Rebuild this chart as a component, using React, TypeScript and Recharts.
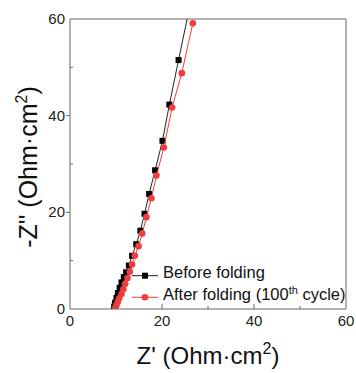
import React from 'react';
import { ScatterChart, Scatter, XAxis, YAxis, ReferenceLine } from 'recharts';

const beforeX = [9.6, 9.8, 10.1, 10.4, 10.8, 11.2, 11.7, 12.2, 12.8, 13.5, 14.4, 15.3, 16.2, 17.2, 18.5, 20.1, 21.6, 23.6, 25.9];
const beforeY = [0.5, 1.3, 2.3, 3.3, 4.4, 5.5, 6.6, 7.6, 9.0, 11.0, 13.4, 16.2, 19.7, 23.8, 28.7, 34.8, 42.3, 51.5, 62];
const afterX = [9.85, 10.1, 10.4, 10.7, 11.2, 11.6, 12.0, 12.5, 13.0, 13.5, 14.1, 14.9, 15.7, 16.6, 17.7, 18.8, 20.4, 22.2, 24.3, 26.7];
const afterY = [0.25, 0.8, 1.5, 2.2, 3.1, 4.1, 5.2, 6.4, 7.7, 9.2, 11.0, 13.0, 15.6, 19.0, 22.9, 27.6, 33.4, 41.7, 48.8, 59.1];
const ticks = [0, 10, 20, 30, 40, 50, 60];
const majorTicks = [0, 20, 40, 60];
const seriesNames = ['Before folding', 'After folding (100'];

const beforeData = beforeX.map((x, i) => ({ x, y: beforeY[i] }));
const afterData = afterX.map((x, i) => ({ x, y: afterY[i] }));

const FONT = '"Liberation Sans", Arial, sans-serif';
const AXIS = '#666';
const RED = '#f03c3c';

const XTick = (props: any) => {
  const { x, y, payload } = props;
  const v = payload.value;
  const major = majorTicks.includes(v);
  const showLine = v !== 0 && v !== 60;
  return (
    <g>
      {showLine && <line x1={x} x2={x} y1={y} y2={y - (major ? 5 : 3)} stroke={AXIS} strokeWidth={1} />}
      {major && (
        <text x={x} y={y + 17} textAnchor="middle" fontSize={15} fontFamily={FONT} fill="#222">
          {v}
        </text>
      )}
    </g>
  );
};

const YTick = (props: any) => {
  const { x, y, payload } = props;
  const v = payload.value;
  const major = majorTicks.includes(v);
  const showLine = v !== 0 && v !== 60;
  return (
    <g>
      {showLine && !major && <line x1={x} x2={x + 3} y1={y} y2={y} stroke={AXIS} strokeWidth={1} />}
      {showLine && major && <line x1={x} x2={x - 4} y1={y} y2={y} stroke={AXIS} strokeWidth={1} />}
      {major && (
        <text x={x - 5} y={y + 5} textAnchor="end" fontSize={15} fontFamily={FONT} fill="#222">
          {v}
        </text>
      )}
    </g>
  );
};

const Square = (props: any) => {
  const { cx, cy } = props;
  if (cx == null || cy == null) return null;
  return <rect x={cx - 3} y={cy - 3} width={6} height={6} fill="#000" />;
};

const Circle = (props: any) => {
  const { cx, cy } = props;
  if (cx == null || cy == null) return null;
  return <circle cx={cx} cy={cy} r={3.3} fill={RED} />;
};

const XLabel = (props: any) => {
  const { viewBox } = props;
  const cx = viewBox.x + viewBox.width / 2;
  return (
    <text x={cx} y={364} textAnchor="middle" fontSize={24} fontFamily={FONT} fill="#111">
      Z' (Ohm·cm<tspan fontSize={16} dy={-10}>2</tspan><tspan dy={10}>)</tspan>
    </text>
  );
};

const YLabel = () => {
  const cy = 167;
  const cx = 37;
  return (
    <text x={cx} y={cy} textAnchor="middle" fontSize={25} fontFamily={FONT} fill="#111" transform={`rotate(-90 ${cx} ${cy})`}>
      -Z'' (Ohm·cm<tspan fontSize={16} dy={-10}>2</tspan><tspan dy={10}>)</tspan>
    </text>
  );
};

const LegendBox = () => (
  <svg width={230} height={50} style={{ position: 'absolute', left: 125, top: 260, overflow: 'visible' }}>
    <line x1={7} x2={33} y1={15.7} y2={15.7} stroke="#222" strokeWidth={1} />
    <rect x={17} y={12.7} width={6} height={6} fill="#000" />
    <text x={38} y={18} fontSize={16.5} fontFamily={FONT} fill="#111">{seriesNames[0]}</text>
    <line x1={7} x2={33} y1={37.3} y2={37.3} stroke={RED} strokeWidth={1} />
    <circle cx={20} cy={37.3} r={3.3} fill={RED} />
    <text x={38} y={40} fontSize={16.5} fontFamily={FONT} fill="#111">
      {seriesNames[1]}<tspan fontSize={11} dy={-6}>th</tspan><tspan dy={6}> cycle)</tspan>
    </text>
  </svg>
);

export default function App() {
  return (
    <div style={{ position: 'absolute', left: 0, top: 0, width: 356, height: 373, background: '#fff' }}>
      <ScatterChart width={356} height={373} margin={{ top: 19, right: 10, left: 0, bottom: 0 }}>
        <XAxis
          xAxisId="main"
          type="number"
          dataKey="x"
          domain={[0, 60]}
          ticks={ticks}
          interval={0}
          allowDataOverflow
          height={64}
          tickSize={0}
          tickMargin={0}
          tickLine={false}
          tick={<XTick />}
          axisLine={{ stroke: AXIS }}
          label={<XLabel />}
        />
        <YAxis
          yAxisId="main"
          type="number"
          dataKey="y"
          domain={[0, 60]}
          ticks={ticks}
          interval={0}
          allowDataOverflow
          width={70}
          tickSize={0}
          tickMargin={0}
          tickLine={false}
          tick={<YTick />}
          axisLine={{ stroke: AXIS }}
          label={<YLabel />}
        />
        <ReferenceLine xAxisId="main" yAxisId="main" y={60} stroke={AXIS} strokeWidth={1} />
        <ReferenceLine xAxisId="main" yAxisId="main" x={60} stroke={AXIS} strokeWidth={1} />
        <Scatter
          xAxisId="main"
          yAxisId="main"
          data={beforeData}
          line={{ stroke: '#222', strokeWidth: 1 }}
          shape={<Square />}
          isAnimationActive={false}
        />
        <Scatter
          xAxisId="main"
          yAxisId="main"
          data={afterData}
          line={{ stroke: RED, strokeWidth: 1 }}
          shape={<Circle />}
          isAnimationActive={false}
        />
      </ScatterChart>
      <LegendBox />
    </div>
  );
}
